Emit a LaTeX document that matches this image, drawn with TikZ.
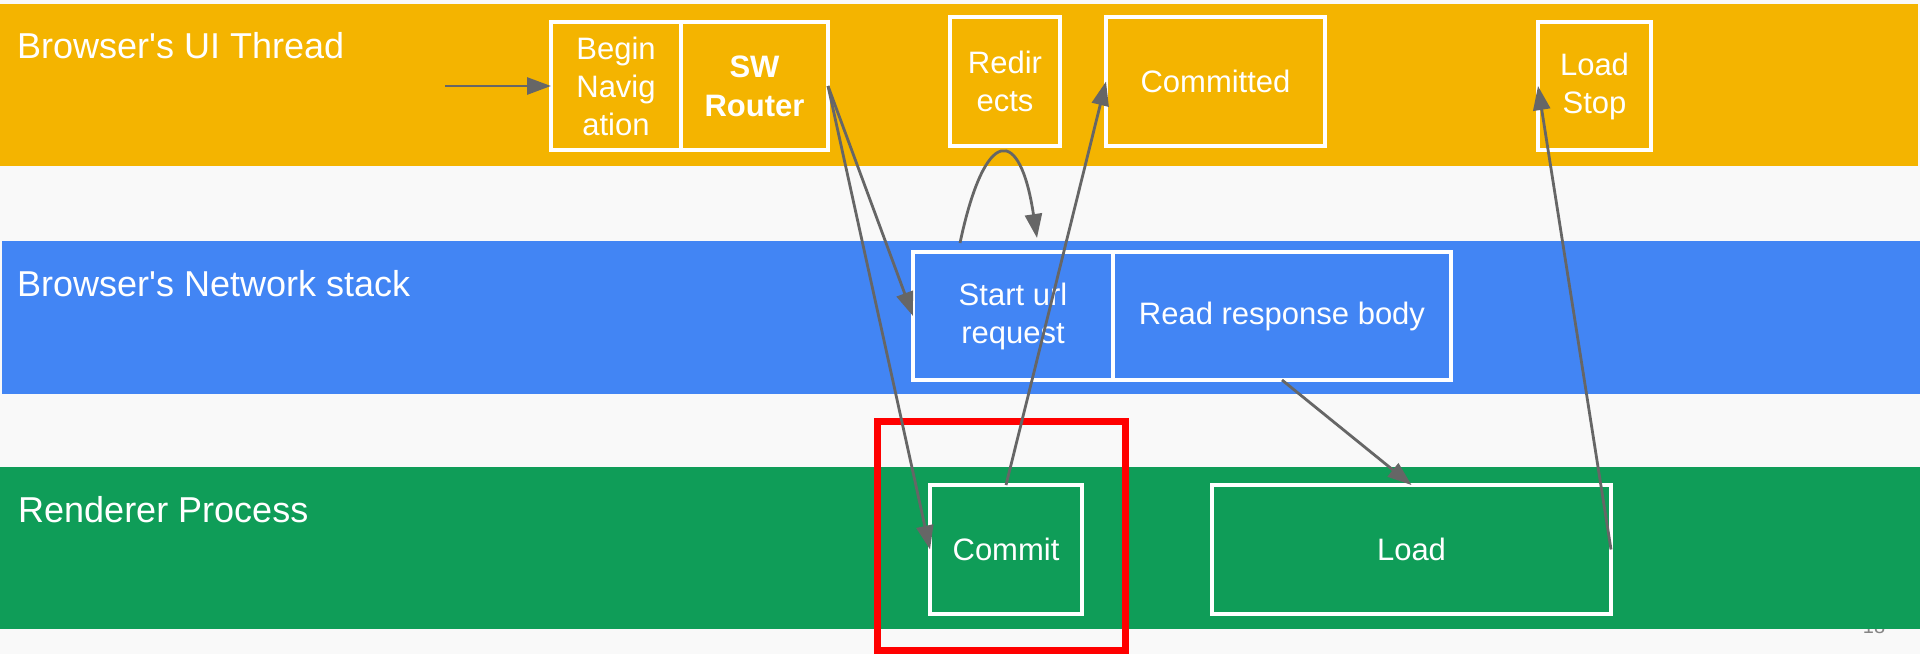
\documentclass[tikz,border=0pt]{standalone}
\usepackage{fontspec}
\setmainfont{Liberation Sans}
\usepackage{tikz}
\usetikzlibrary{arrows.meta}
\usetikzlibrary{positioning}
\definecolor{uiyellow}{HTML}{F4B400}
\definecolor{netblue}{HTML}{4285F4}
\definecolor{rendgreen}{HTML}{0F9D58}
\definecolor{arrowgray}{HTML}{666666}
\definecolor{slidebg}{HTML}{F9F9F9}

\begin{document}
\begin{tikzpicture}[x=1pt,y=-1pt,
    lane/.style={anchor=base west,inner sep=0pt,text=white,font=\fontsize{36}{43}\selectfont},
    stage/.style={draw=white,line width=3.5pt,outer sep=0pt,inner sep=2pt,text=white,align=center,
                  minimum height=128pt,font=\fontsize{31}{38}\selectfont},
    flow/.style={draw=arrowgray,line width=2.8pt,-{Triangle[length=24pt,width=17pt]}}]
       \fill[slidebg] (0,0) rectangle (1920,654);
       \useasboundingbox (0,0) rectangle (1920,654);
       \node[anchor=base,inner sep=0pt,text=arrowgray!80,font=\fontsize{20}{24}\selectfont] (pagenum) at (1874,633) {18};
       \begin{scope}
         \fill[uiyellow] (0,4) rectangle (1918,166);
         \fill[netblue] (2,241) rectangle (1920,394);
         \fill[rendgreen] (0,467) rectangle (1920,629);
       \end{scope}
       \node[lane] (uilane) at (17,58) {Browser\textquotesingle s UI Thread};
       \node[lane] (netlane) at (17,296) {Browser\textquotesingle s Network stack};
       \node[lane] (rendlane) at (18,522) {Renderer Process};
       \begin{scope}
         \node[stage,minimum width=130pt] (nav) at (616,86) {Begin\\Navig\\ation};
         \node[stage,minimum width=147pt,right=0pt of nav,font=\fontsize{31}{39}\selectfont\bfseries] (router) {SW\\Router};
         \node[stage,minimum width=110pt,minimum height=129pt] (redir) at (1005,81.5) {Redir\\ects};
         \node[stage,minimum width=219pt,minimum height=129pt] (committed) at (1215.5,81.5) {Committed};
         \node[stage,minimum width=113pt] (loadstop) at (1594.5,86) {Load\\Stop};
         \node[stage,minimum width=200pt] (start) at (1013,316) {Start url\\request};
         \node[stage,minimum width=338pt,right=0pt of start] (read) {Read response body};
         \node[stage,minimum width=152pt,minimum height=129pt] (commit) at (1006,549.5) {Commit};
         \node[stage,minimum width=399pt,minimum height=129pt] (load) at (1411.5,549.5) {Load};
       \end{scope}
       \node[draw=red,line width=7pt,inner sep=0pt,minimum width=248pt,minimum height=229pt] (focus) at (1001,535.5) {};
       \coordinate (entry) at (445,86);
       \draw[flow] (entry) -- (nav.west);
       \draw[flow] (router.east) -- (start.west);
       \draw[flow] (router.east) -- (commit.west);
       \draw[flow] ([xshift=-53pt,yshift=9pt]start.north) .. controls +(25,-118) and +(-17,-113) .. ([xshift=24pt,yshift=14pt]start.north);
       \draw[flow] (commit.north) -- (committed.west);
       \draw[flow] (read.south) -- (load.north);
       \draw[flow] (load.east) -- (loadstop.west);
\end{tikzpicture}
\end{document}
